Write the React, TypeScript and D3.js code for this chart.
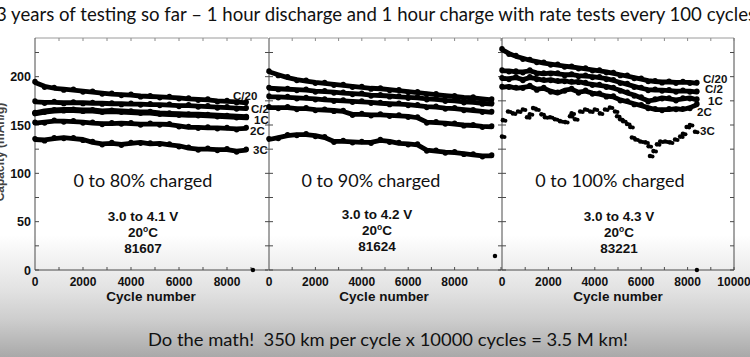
import React from 'react';
import * as d3 from 'd3';

const W = 750;
const H = 357;

const TITLE = '3 years of testing so far – 1 hour discharge and 1 hour charge with rate tests every 100 cycles';
const FOOTER = 'Do the math!  350 km per cycle x 10000 cycles = 3.5 M km!';
const RATES = ['C/20', 'C/2', '1C', '2C', '3C'];
const Y_TICK_LABELS = [0, 50, 100, 150, 200];
const Y_MINOR = [0, 25, 50, 75, 100, 125, 150, 175, 200, 225];
const X_MINOR = [0, 1000, 2000, 3000, 4000, 5000, 6000, 7000, 8000, 9000, 10000];

const PANEL_TITLES = ['0 to 80% charged', '0 to 90% charged', '0 to 100% charged'];
const PANEL_VOLTAGES = ['3.0 to 4.1 V', '3.0 to 4.2 V', '3.0 to 4.3 V'];
const PANEL_IDS = ['81607', '81624', '83221'];

// Panel 1 (0 to 80%)
const P1_CYCLES = [0, 400, 800, 1200, 1600, 2000, 2400, 2800, 3200, 3600, 4000, 4400, 4800, 5200, 5600, 6000, 6400, 6800, 7200, 7600, 8000, 8400, 8800];
const P1_C20 = [194, 190, 188, 187, 186, 185, 184, 183, 182, 181.5, 181, 180, 179.5, 179, 178.5, 178, 177, 176.5, 176, 175, 174.5, 174, 173];
const P1_C2 = [174, 173.5, 173.5, 173, 173, 173, 172.5, 172.5, 172, 172, 171.5, 171.5, 171, 171, 170.5, 170, 170, 169.5, 169, 168.5, 168, 167.5, 167];
const P1_1C = [162, 164, 165, 165.5, 165.5, 165, 165, 164, 164.5, 164, 163.5, 163, 163, 162, 161.5, 161, 160.5, 160.5, 160, 159.5, 159, 158.5, 158];
const P1_2C = [152, 153, 154, 154, 153.5, 153, 152, 151.5, 151.5, 152, 151.5, 151, 151, 151, 150.5, 149, 147.5, 147.5, 147, 147, 146.5, 146, 146.5];
const P1_3C = [135, 134.5, 136, 137, 136, 135, 132, 130.5, 131, 130, 131, 132, 130.5, 131, 129.5, 128.5, 126, 125, 125, 124.5, 124.5, 123, 124];
const P1_END = [[9080, 0]];

// Panel 2 (0 to 90%)
const P2_CYCLES = [0, 400, 800, 1200, 1600, 2000, 2400, 2800, 3200, 3600, 4000, 4400, 4800, 5200, 5600, 6000, 6400, 6800, 7200, 7600, 8000, 8400, 8800, 9200, 9600];
const P2_C20 = [205, 202, 199, 197, 195.5, 194, 193, 192, 191, 190, 189, 188, 187.5, 186.5, 185.5, 184.5, 183.5, 182.5, 181.5, 180.5, 179.5, 178.5, 178, 177, 176];
const P2_C2 = [188, 187.5, 187, 186.5, 186, 185, 184.5, 184, 183, 182.5, 182, 181, 180.5, 180, 179, 178.5, 178, 177, 176.5, 175.5, 175, 174, 173.5, 172.5, 171.5];
const P2_1C = [179, 179, 178.5, 178, 177.5, 177, 176, 175.5, 175, 174.5, 174, 173.5, 172.5, 172, 171.5, 171, 170, 169, 168.5, 167.5, 167, 166, 165, 164, 163];
const P2_2C = [168, 168, 168, 167, 167, 166, 165.5, 165, 164, 161, 161, 160.5, 160.5, 160, 159.5, 159, 157.5, 153, 152.5, 152, 151, 150, 149.5, 148.5, 148];
const P2_3C = [135, 137, 139, 140, 140, 139, 137, 133, 133, 132.5, 132, 132, 134, 133, 131, 130.5, 129.5, 124, 123, 122, 121.5, 120.5, 119, 118, 118];
const P2_END = [[9740, 14.5]];

// Panel 3 (0 to 100%)
const P3_CYCLES = [0, 300, 600, 900, 1200, 1500, 1800, 2100, 2400, 2700, 3000, 3300, 3600, 3900, 4200, 4500, 4800, 5100, 5400, 5700, 6000, 6300, 6600, 6900, 7200, 7500, 7800, 8100, 8400];
const P3_C20 = [228, 224, 221, 219, 217, 215.5, 214, 213, 212, 211, 210, 209, 208, 207, 206, 205, 203.5, 202, 200.5, 199, 197.5, 196, 195, 194.5, 194.5, 194, 194, 194, 193];
const P3_C2 = [206, 206, 205, 205, 206, 204, 203, 204, 203, 202, 202, 201, 200.5, 200, 199, 198, 196, 194, 192, 190, 188, 186.5, 186, 186, 185.5, 185, 185, 185, 184];
const P3_1C = [198, 198, 199, 197, 199, 198, 196, 197, 195, 196, 194, 195, 193, 192, 191, 190, 188, 186, 183, 181, 178, 175, 176, 178, 177, 176, 177, 178, 176];
const P3_2C = [189, 190, 188, 189, 190, 187, 188, 185, 183, 186, 187, 184, 185, 183, 182, 180, 179, 176, 174, 172, 170, 168, 166, 166, 166, 167, 166, 168, 171];
const P3_3C_CYCLES = [0, 40, 260, 470, 690, 900, 1080, 1200, 1340, 1480, 1700, 1850, 2070, 2280, 2500, 2720, 2930, 3000, 3150, 3370, 3580, 3800, 4000, 4220, 4440, 4650, 4870, 4960, 5090, 5220, 5390, 5530, 5600, 5750, 5960, 6180, 6320, 6380, 6530, 6680, 6820, 7030, 7240, 7460, 7680, 7800, 7960, 8100, 8320];
const P3_3C = [138, 155, 164, 162, 164, 166, 158, 161, 167.5, 166, 161, 158, 158, 156, 154, 153, 159, 162, 156, 164, 166, 164, 166, 162, 166, 168, 164, 159, 156, 154, 151, 148, 137, 135, 133, 132, 128, 118, 123, 130, 133, 133, 132, 135, 138, 141, 148, 150, 143];
const P3_END = [[8400, 0]];

const yScale = d3.scaleLinear().domain([0, 240]).range([270, 38]);

const panels = [
  {
    x: d3.scaleLinear().domain([0, 10000]).range([35, 275]),
    left: 35, right: 268, labels: [0, 2000, 4000, 6000, 8000], showY: true, rightTicks: false,
    cycles: P1_CYCLES, lines: [P1_C20, P1_C2, P1_1C, P1_2C, P1_3C], dots3C: null as null | { c: number[]; v: number[] }, end: P1_END,
    titleX: 143, infoX: 143, infoY: [216, 232, 248], cycleX: 151,
    rateLabels: [[233, 100], [251, 112.5], [254, 124], [250, 135], [253, 154]],
  },
  {
    x: d3.scaleLinear().domain([0, 10000]).range([269, 501]),
    left: 269, right: 501, labels: [0, 2000, 4000, 6000, 8000], showY: false, rightTicks: false,
    cycles: P2_CYCLES, lines: [P2_C20, P2_C2, P2_1C, P2_2C, P2_3C], dots3C: null, end: P2_END,
    titleX: 371, infoX: 377, infoY: [214, 230, 246], cycleX: 384,
    rateLabels: [] as number[][],
  },
  {
    x: d3.scaleLinear().domain([0, 10000]).range([502, 734]),
    left: 502, right: 734, labels: [0, 2000, 4000, 6000, 8000, 10000], showY: false, rightTicks: true,
    cycles: P3_CYCLES, lines: [P3_C20, P3_C2, P3_1C, P3_2C], dots3C: { c: P3_3C_CYCLES, v: P3_3C }, end: P3_END,
    titleX: 610, infoX: 619, infoY: [216, 232, 248], cycleX: 618,
    rateLabels: [[703, 82.5], [705, 93], [708, 104.5], [697, 116], [700, 135]],
  },
];

const AX = '#4a4a4a';
const BOLD = 'Liberation Sans, Arial, sans-serif';
const SLIDE = 'Lato, Open Sans, sans-serif';

function Panel({ p, idx }: { p: typeof panels[number]; idx: number }) {
  const line = d3.line<number>()
    .x((_, i) => p.x(p.cycles[i]))
    .y((d) => yScale(d))
    .curve(d3.curveLinear);
  const y0 = yScale(0);
  const yTop = yScale(240);
  return (
    <g>
      <line x1={p.left} x2={p.right} y1={y0} y2={y0} stroke={AX} strokeWidth={1} />
      <line x1={p.left} x2={p.right} y1={yTop} y2={yTop} stroke="#9a9a9a" strokeWidth={1} />
      <line x1={p.left} x2={p.left} y1={yTop} y2={y0} stroke={AX} strokeWidth={1} />
      {p.rightTicks && <line x1={p.right} x2={p.right} y1={yTop} y2={y0} stroke={AX} strokeWidth={1} />}
      {X_MINOR.filter((t) => p.x(t) <= p.right + 0.5 && p.x(t) > p.left + 0.5).map((t) => (
        <g key={'xt' + t}>
          <line x1={p.x(t)} x2={p.x(t)} y1={y0} y2={y0 - 3} stroke={AX} />
          <line x1={p.x(t)} x2={p.x(t)} y1={yTop} y2={yTop + 3} stroke="#8a8a8a" />
        </g>
      ))}
      {Y_MINOR.map((t) => (
        <g key={'yt' + t}>
          <line x1={p.left} x2={p.left + 4} y1={yScale(t)} y2={yScale(t)} stroke={AX} />
          {idx > 0 && <line x1={p.left} x2={p.left - 4} y1={yScale(t)} y2={yScale(t)} stroke={AX} />}
          {p.rightTicks && <line x1={p.right} x2={p.right - 4} y1={yScale(t)} y2={yScale(t)} stroke={AX} />}
        </g>
      ))}
      {p.showY && Y_TICK_LABELS.map((t) => (
        <text key={'yl' + t} x={31} y={yScale(t) + 4.5} textAnchor="end" fontFamily={BOLD} fontWeight="bold" fontSize={12.5} fill="#111">{t}</text>
      ))}
      {p.labels.map((t) => (
        <text key={'xl' + t} x={p.x(t)} y={285.5} textAnchor="middle" fontFamily={BOLD} fontWeight="bold" fontSize={12} fill="#111">{t}</text>
      ))}
      <text x={p.cycleX} y={301} textAnchor="middle" fontFamily={BOLD} fontWeight="bold" fontSize={13.5} fill="#111">Cycle number</text>

      {p.lines.map((vals, i) => (
        <g key={'s' + i}>
          <path d={line(vals) || ''} fill="none" stroke="#000" strokeWidth={i === 2 && idx === 0 ? 6 : 4.8} strokeLinecap="round" strokeLinejoin="round" />
          {vals.map((v, j) => (
            <circle key={j} cx={p.x(p.cycles[j])} cy={yScale(v) + (j % 2 ? 0.9 : -0.9)} r={2.7} fill="#000" />
          ))}
        </g>
      ))}
      {p.dots3C && p.dots3C.v.map((v, j) => (
        <g key={'d' + j}>
          <circle cx={p.x(p.dots3C!.c[j])} cy={yScale(v)} r={2.3} fill="#000" />
          <circle cx={p.x(p.dots3C!.c[j]) + 2.5} cy={yScale(v) + 0.5} r={2} fill="#000" />
        </g>
      ))}
      {p.end.map((d, j) => (
        <circle key={'e' + j} cx={p.x(d[0])} cy={yScale(d[1])} r={2.2} fill="#000" />
      ))}

      {p.rateLabels.map((pos, i) => (
        <text key={'r' + i} x={pos[0]} y={pos[1]} fontFamily={BOLD} fontWeight="bold" fontSize={11.5} fill="#111">{RATES[i]}</text>
      ))}
      <text x={p.titleX} y={187} textAnchor="middle" fontFamily={SLIDE} fontSize={18} fill="#111">{PANEL_TITLES[idx]}</text>
      <text x={p.infoX} y={p.infoY[0] + 5} textAnchor="middle" fontFamily={BOLD} fontWeight="bold" fontSize={13.5} fill="#111">{PANEL_VOLTAGES[idx]}</text>
      <text x={p.infoX} y={p.infoY[1] + 5} textAnchor="middle" fontFamily={BOLD} fontWeight="bold" fontSize={13.5} fill="#111">
        20<tspan fontSize={8.5} dy={-5}>o</tspan><tspan dy={5}>C</tspan>
      </text>
      <text x={p.infoX} y={p.infoY[2] + 5} textAnchor="middle" fontFamily={BOLD} fontWeight="bold" fontSize={13.5} fill="#111">{PANEL_IDS[idx]}</text>
    </g>
  );
}

export default function App() {
  return (
    <svg width={W} height={H} viewBox={`0 0 ${W} ${H}`} style={{ position: 'absolute', left: 0, top: 0, display: 'block' }}>
      <defs>
        <linearGradient id="bg" x1="0" y1="0" x2="0" y2={H} gradientUnits="userSpaceOnUse">
          <stop offset={0} stopColor="#ffffff" />
          <stop offset={235 / H} stopColor="#ffffff" />
          <stop offset={290 / H} stopColor="#e2e2e2" />
          <stop offset={320 / H} stopColor="#cdcdcd" />
          <stop offset={1} stopColor="#a9a9a9" />
        </linearGradient>
      </defs>
      <rect x={0} y={0} width={W} height={H} fill="url(#bg)" />
      <text x={-4} y={21} fontFamily={SLIDE} fontSize={18.5} fill="#111" textLength={760} lengthAdjust="spacingAndGlyphs">{TITLE}</text>
      <text x={4} y={152} transform="rotate(-90 4 152)" textAnchor="middle" fontFamily={BOLD} fontWeight="bold" fontSize={12} fill="#444">Capacity (mAh/g)</text>
      {panels.map((p, i) => (
        <Panel key={i} p={p} idx={i} />
      ))}
      <text x={388} y={346} textAnchor="middle" fontFamily={SLIDE} fontSize={17.5} fill="#111" textLength={480} lengthAdjust="spacingAndGlyphs" style={{ whiteSpace: 'pre' }}>{FOOTER}</text>
    </svg>
  );
}
